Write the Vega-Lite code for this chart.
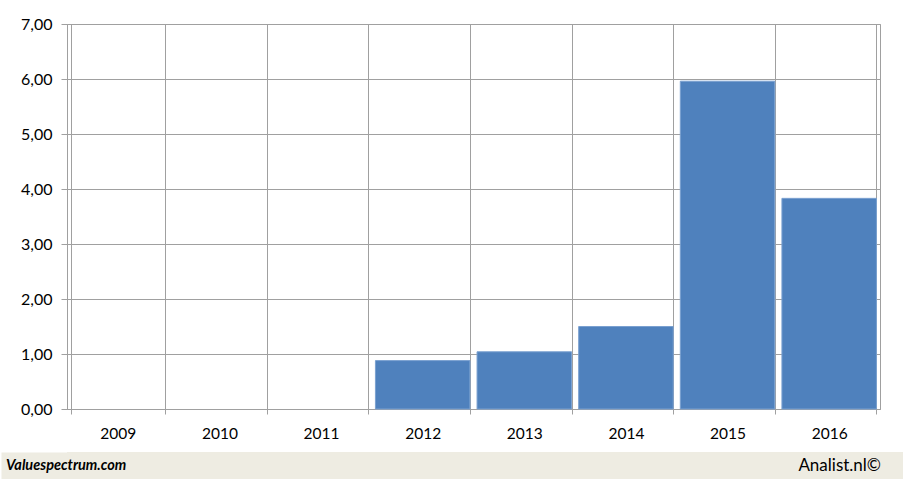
{
  "$schema": "https://vega.github.io/schema/vega-lite/v6.json",
  "background": "white",
  "padding": {"top": 15, "left": 0, "right": 0, "bottom": 0},
  "spacing": 0,
  "config": {"font": "Lato", "view": {"stroke": null}},
  "vconcat": [
    {
      "width": 813,
      "height": 385,
      "view": {"stroke": "#A0A0A0", "fill": "white"},
      "data": {"values": [
        {"year": "2012", "value": 0.88},
        {"year": "2013", "value": 1.04},
        {"year": "2014", "value": 1.50},
        {"year": "2015", "value": 5.96},
        {"year": "2016", "value": 3.83}
      ]},
      "mark": {"type": "bar", "color": "#4F81BD", "stroke": "#7AA0D0", "strokeWidth": 1},
      "encoding": {
        "x": {
          "field": "year", "type": "ordinal",
          "scale": {"domain": ["2009", "2010", "2011", "2012", "2013", "2014", "2015", "2016"], "paddingInner": 0.07, "paddingOuter": 0.035},
          "axis": {
            "title": null, "labelAngle": 0, "tickBand": "extent", "grid": true,
            "gridColor": "#A0A0A0", "tickColor": "#A0A0A0", "domainColor": "#A0A0A0",
            "tickSize": 5, "labelPadding": 12, "labelFontSize": 15.5, "labelColor": "black",
            "minExtent": 42, "maxExtent": 42
          }
        },
        "y": {
          "field": "value", "type": "quantitative",
          "scale": {"domain": [0, 7]},
          "axis": {
            "title": null, "values": [0, 1, 2, 3, 4, 5, 6, 7],
            "labelExpr": "replace(format(datum.value, '.2f'), '.', ',')",
            "grid": true, "gridColor": "#A0A0A0", "tickColor": "#A0A0A0", "domainColor": "#A0A0A0",
            "tickSize": 6, "labelPadding": 9, "labelFontSize": 16, "labelColor": "black",
            "minExtent": 66, "maxExtent": 66
          }
        }
      }
    },
    {
      "width": 837,
      "height": 28,
      "view": {"fill": "#EEECE2", "stroke": null},
      "data": {"values": [{"site": "Valuespectrum.com", "credit": "Analist.nl©"}]},
      "layer": [
        {
          "mark": {"type": "text", "align": "left", "baseline": "middle", "fontStyle": "italic", "fontWeight": "bold", "fontSize": 14.5, "dx": -61, "color": "black"},
          "encoding": {
            "text": {"field": "site"},
            "x": {"datum": 0, "type": "quantitative", "scale": {"domain": [0, 1]}, "axis": null},
            "y": {"datum": 0.5, "type": "quantitative", "scale": {"domain": [0, 1]},
              "axis": {"title": null, "labels": false, "ticks": false, "grid": false, "domain": true,
                "domainColor": "#EEECE2", "domainWidth": 132, "domainCap": "butt", "minExtent": 0, "maxExtent": 0}}
          }
        },
        {
          "mark": {"type": "text", "align": "right", "baseline": "middle", "fontSize": 17, "dx": -23, "color": "black"},
          "encoding": {
            "text": {"field": "credit"},
            "x": {"datum": 1, "type": "quantitative", "scale": {"domain": [0, 1]}, "axis": null},
            "y": {"datum": 0.5, "type": "quantitative", "scale": {"domain": [0, 1]}}
          }
        }
      ]
    }
  ]
}
